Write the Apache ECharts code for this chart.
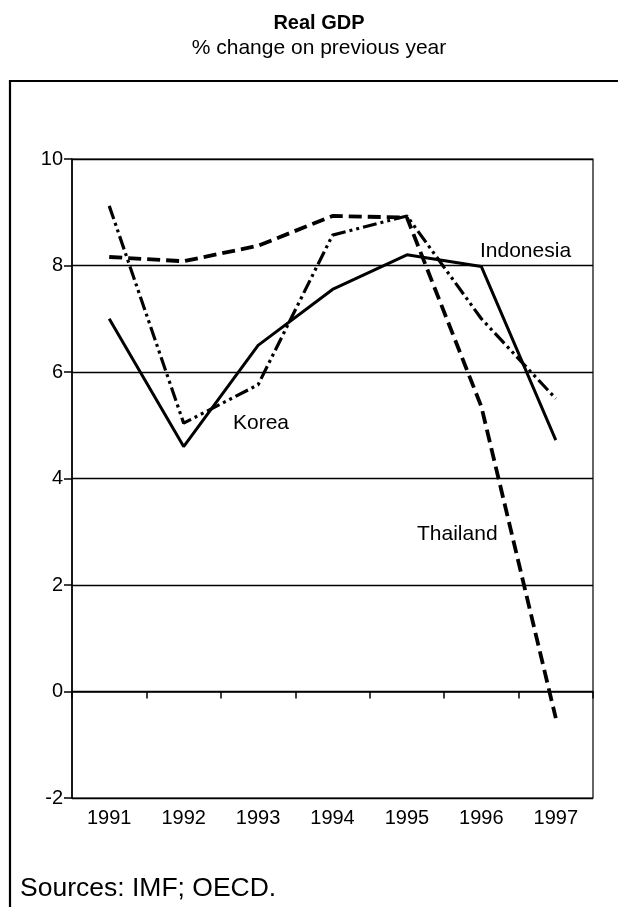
<!DOCTYPE html>
<html>
<head>
<meta charset="utf-8">
<script src="https://cdn.jsdelivr.net/npm/echarts@6/dist/echarts.min.js"></script>
<style>
html,body{margin:0;padding:0;background:#fff;}
#c{width:618px;height:907px;}
</style>
</head>
<body>
<div id="c"></div>
<script>
const years = ['1991','1992','1993','1994','1995','1996','1997'];
const indonesia = [7.0, 4.6, 6.5, 7.55, 8.2, 7.98, 4.72];
const korea = [9.12, 5.04, 5.76, 8.57, 8.93, 7.0, 5.5];
const thailand = [8.16, 8.08, 8.37, 8.93, 8.9, 5.35, -0.5];
const yTicks = [-2, 0, 2, 4, 6, 8, 10];

const FONT = '"Liberation Sans", Arial, Helvetica, sans-serif';
const chart = echarts.init(document.getElementById('c'), null, {renderer: 'canvas'});

chart.setOption({
  animation: false,
  backgroundColor: '#fff',
  grid: {left: 72, right: 25, top: 159, bottom: 109, show: true, borderColor: '#000', borderWidth: 1.2},
  xAxis: {
    type: 'category',
    data: years,
    boundaryGap: true,
    axisLine: {lineStyle: {color: '#000', width: 1.5}},
    axisTick: {show: true, length: 7, lineStyle: {color: '#000', width: 1.5}, alignWithLabel: false},
    axisLabel: {color: '#000', fontSize: 20, fontFamily: FONT, margin: 10}
  },
  yAxis: {
    type: 'value',
    min: yTicks[0], max: yTicks[yTicks.length - 1], interval: 2,
    axisLine: {show: true, lineStyle: {color: '#000', width: 1.5}},
    axisTick: {show: true, length: 8, lineStyle: {color: '#000', width: 1.5}},
    axisLabel: {color: '#000', fontSize: 20, fontFamily: FONT, margin: 9},
    splitLine: {show: true, lineStyle: {color: '#000', width: 1.3}}
  },
  series: [
    {name: 'Indonesia', type: 'line', data: indonesia, symbol: 'none',
     lineStyle: {color: '#000', width: 3, type: 'solid'}},
    {name: 'Korea', type: 'line', data: korea, symbol: 'none',
     lineStyle: {color: '#000', width: 3.2, type: [14, 4, 3, 4, 3, 4]}},
    {name: 'Thailand', type: 'line', data: thailand, symbol: 'none',
     lineStyle: {color: '#000', width: 3.8, type: [13, 6]}}
  ],
  graphic: [
    {type: 'rect', shape: {x: 10, y: 81, width: 640, height: 860}, style: {fill: 'none', stroke: '#000', lineWidth: 2.2}, silent: true},
    {type: 'text', x: 319, y: 23, style: {text: 'Real GDP', font: 'bold 20px ' + FONT, fill: '#000', textAlign: 'center', textVerticalAlign: 'middle'}},
    {type: 'text', x: 319, y: 48, style: {text: '% change on previous year', font: '21px ' + FONT, fill: '#000', textAlign: 'center', textVerticalAlign: 'middle'}},
    {type: 'text', x: 480, y: 251, style: {text: 'Indonesia', font: '21px ' + FONT, fill: '#000', textAlign: 'left', textVerticalAlign: 'middle'}},
    {type: 'text', x: 233, y: 423, style: {text: 'Korea', font: '21px ' + FONT, fill: '#000', textAlign: 'left', textVerticalAlign: 'middle'}},
    {type: 'text', x: 417, y: 534, style: {text: 'Thailand', font: '21px ' + FONT, fill: '#000', textAlign: 'left', textVerticalAlign: 'middle'}},
    {type: 'text', x: 20, y: 889, style: {text: 'Sources: IMF; OECD.', font: '26.5px ' + FONT, fill: '#000', textAlign: 'left', textVerticalAlign: 'middle'}}
  ]
});
</script>
</body>
</html>
